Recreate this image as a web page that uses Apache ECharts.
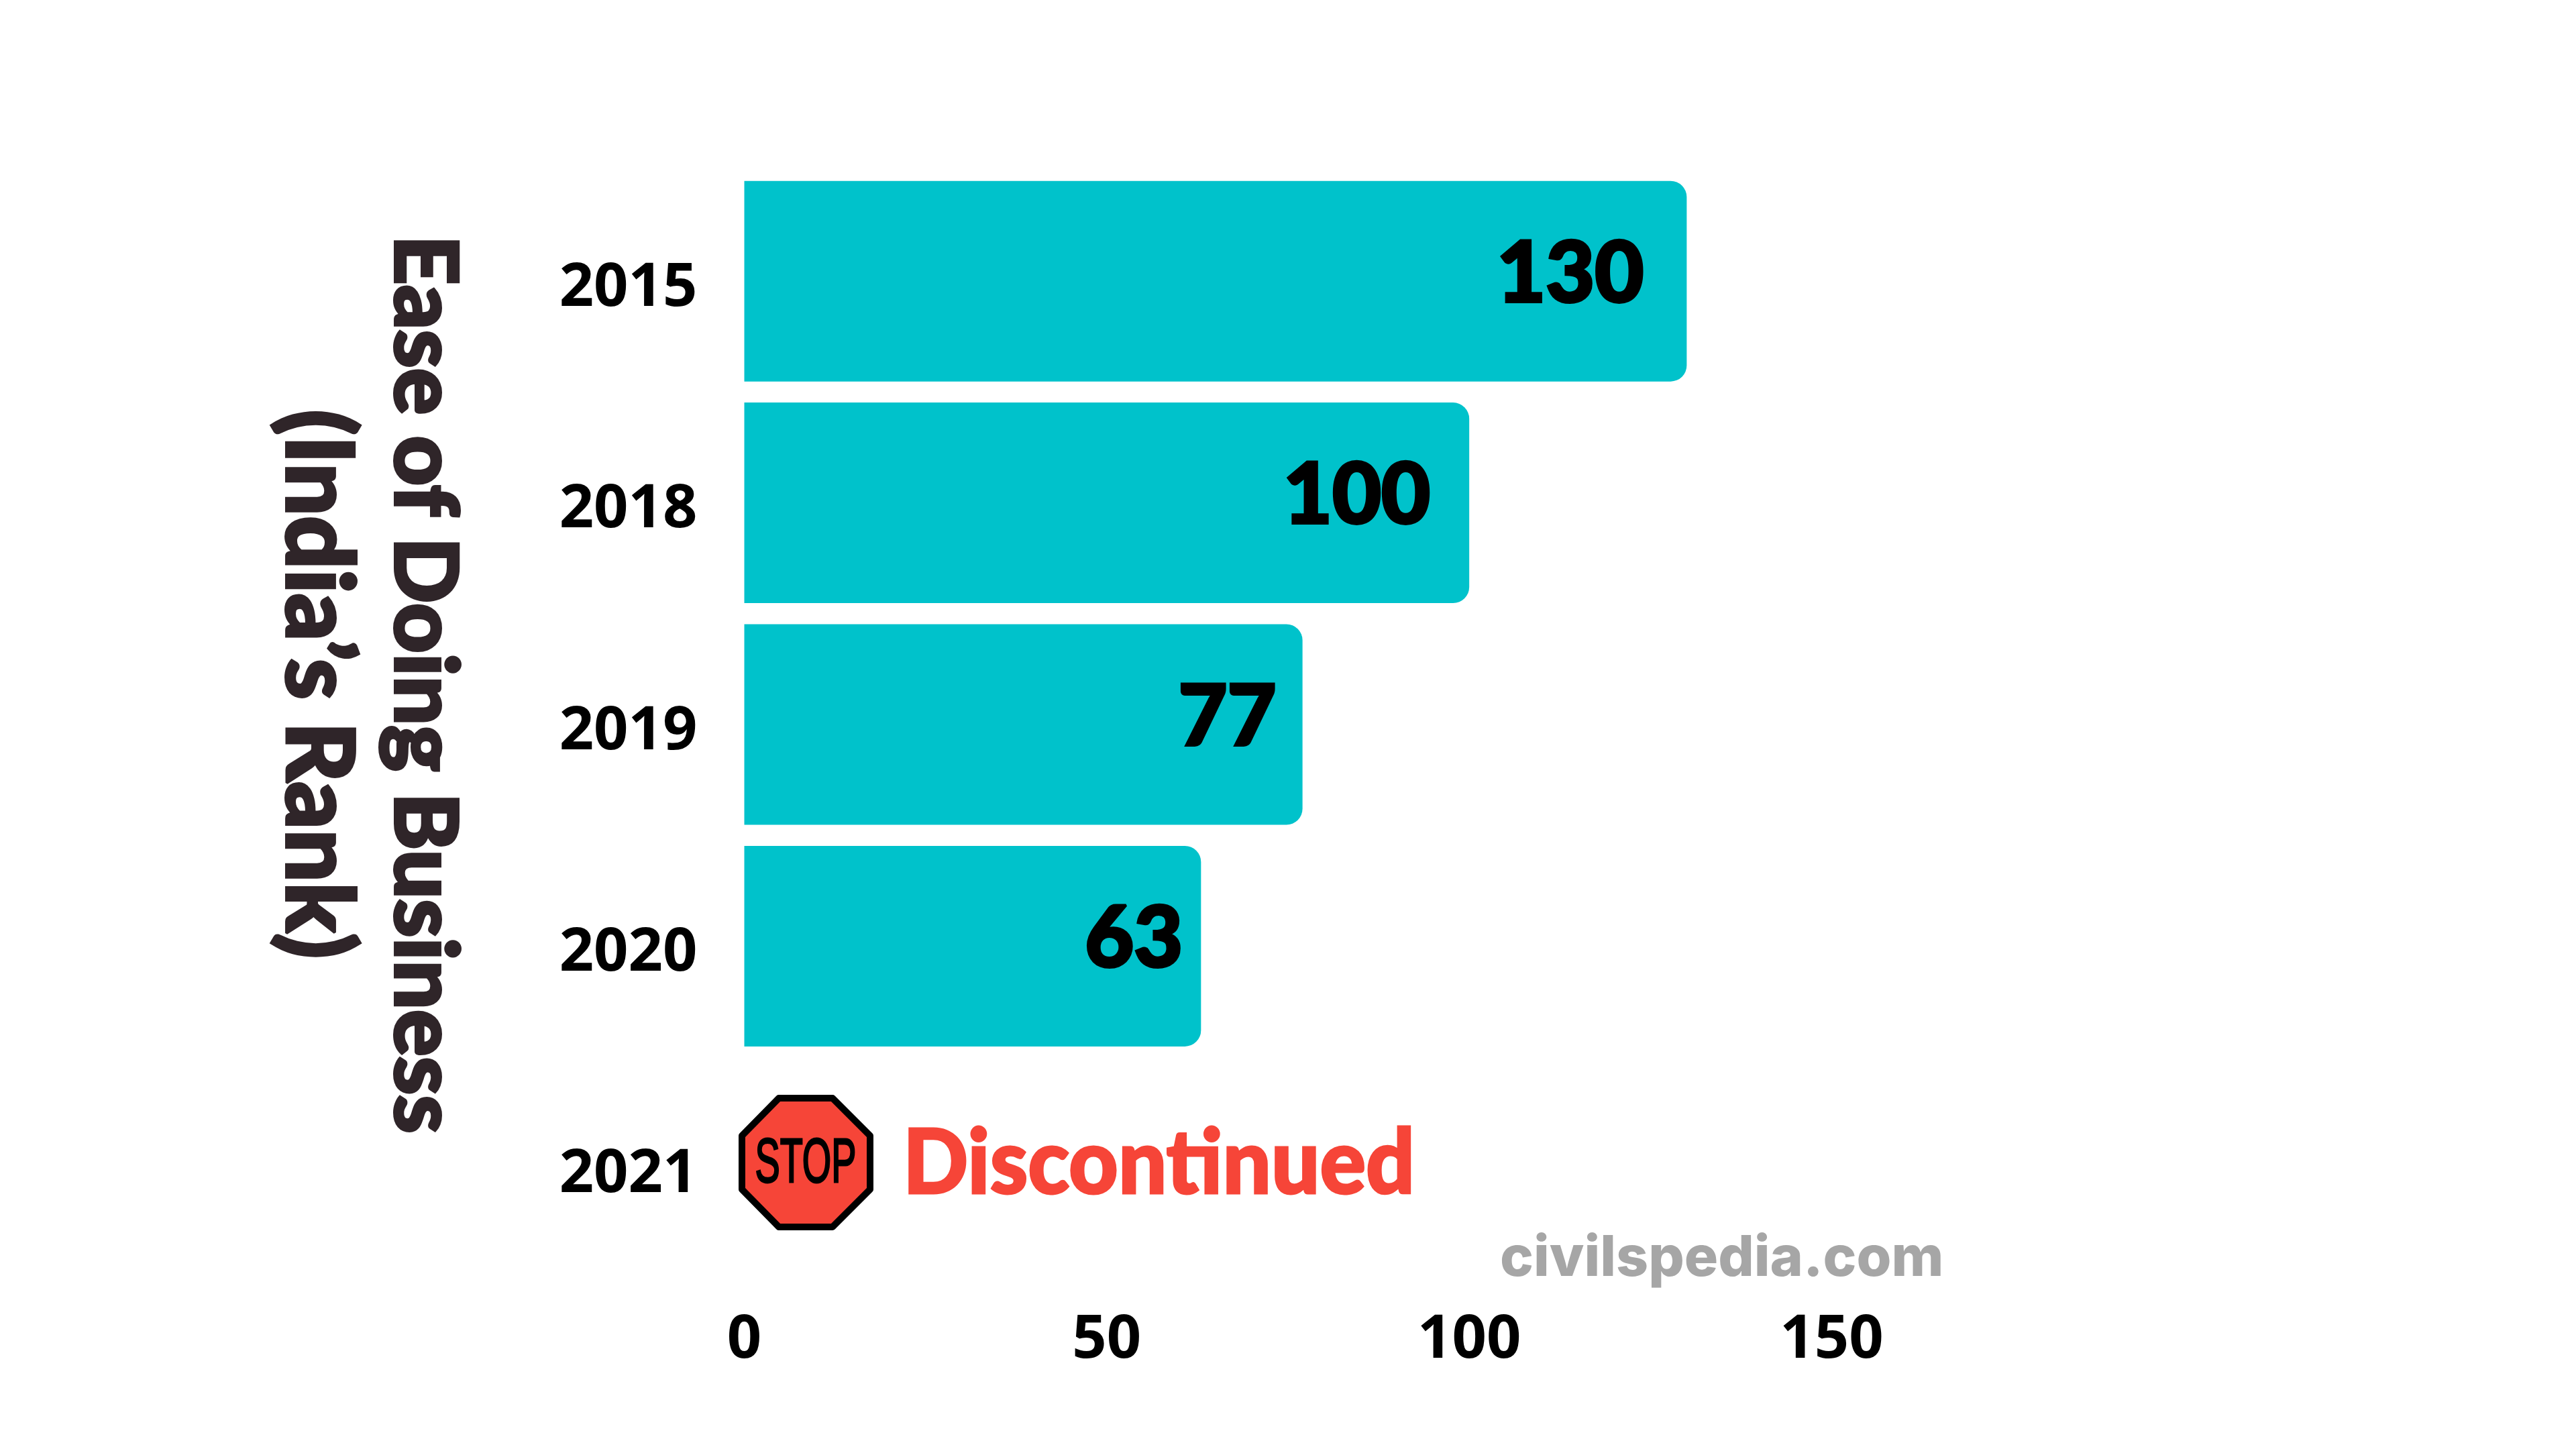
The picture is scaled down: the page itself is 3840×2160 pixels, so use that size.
<!DOCTYPE html>
<html>
<head>
<meta charset="utf-8">
<style>html,body{margin:0;padding:0;background:#fff}#c{width:3840px;height:2160px}</style>
<script src="https://cdn.jsdelivr.net/npm/echarts@6/dist/echarts.min.js"></script>
</head>
<body>
<div id="c"></div>
<script>
var years = ['2015', '2018', '2019', '2020', '2021'];
var ranks = [130, 100, 77, 63, null];
var valueTicks = [0, 50, 100, 150];
var axisNameLine1 = 'Ease of Doing Business';
var axisNameLine2 = '(India\u2019s Rank)';
var stopWord = 'STOP';
var noteText = 'Discontinued';
var siteText = 'civilspedia.com';
var labelInsets = [64, 58, 39, 27, 0];

var nameStyle = {
  fontFamily: 'Lato', fontWeight: 900, lineHeight: 159, color: '#2f2529',
  textBorderColor: '#2f2529', textBorderWidth: 4
};

var chart = echarts.init(document.getElementById('c'), null, {renderer: 'canvas'});
chart.setOption({
  animation: false,
  backgroundColor: '#ffffff',
  grid: {left: 1109.5, top: 254, width: 1621, height: 1652},
  xAxis: {
    type: 'value', min: 0, max: 150, interval: 50,
    splitLine: {show: false}, axisLine: {show: false}, axisTick: {show: false},
    axisLabel: {
      margin: 47, fontFamily: 'Open Sans', fontWeight: 700, fontSize: 90, color: '#000',
      customValues: valueTicks, hideOverlap: false, showMinLabel: true, showMaxLabel: true
    }
  },
  yAxis: {
    type: 'category', inverse: true, data: years,
    axisLine: {show: false}, axisTick: {show: false},
    axisLabel: {
      margin: 70, color: '#000', formatter: '{y|{value}}',
      rich: {y: {fontFamily: 'Open Sans', fontWeight: 700, fontSize: 90, color: '#000', padding: [22, 0, 0, 0]}}
    },
    name: '{a|' + axisNameLine1 + '}\n{b|' + axisNameLine2 + '}',
    nameLocation: 'middle', nameRotate: -90, nameGap: 399,
    nameTextStyle: {
      padding: [0, 120, 0, 0], align: 'center',
      rich: {
        a: Object.assign({fontSize: 130}, nameStyle),
        b: Object.assign({fontSize: 139}, nameStyle)
      }
    }
  },
  series: [{
    type: 'bar', barWidth: 299,
    itemStyle: {color: '#00c2cb', borderRadius: [0, 24, 24, 0]},
    data: ranks.map(function (v, i) {
      return {
        value: v,
        label: {
          show: v !== null, position: 'insideRight', distance: labelInsets[i], offset: [0, -10],
          fontFamily: 'Lato', fontWeight: 900, fontSize: 126, color: '#000',
          textBorderColor: '#000', textBorderWidth: 4, formatter: '{c}'
        }
      };
    })
  }],
  graphic: [
    {
      type: 'polygon', z: 10,
      shape: {points: [[1161, 1637], [1241, 1637], [1297, 1693], [1297, 1773], [1241, 1829], [1161, 1829], [1106, 1773], [1106, 1693]]},
      style: {fill: '#f64538', stroke: '#000', lineWidth: 10, lineJoin: 'round'}
    },
    {
      type: 'text', z: 11, x: 1201, y: 1736, scaleX: 0.6, scaleY: 1,
      style: {text: stopWord, font: '400 93px "Liberation Sans"', fill: '#000', stroke: '#000', lineWidth: 3, textAlign: 'center', textVerticalAlign: 'middle'}
    },
    {
      type: 'text', z: 10, x: 1346, y: 1736, scaleX: 0.955, scaleY: 1,
      style: {text: noteText, font: '900 134px Lato', fill: '#f64538', stroke: '#f64538', lineWidth: 3, textAlign: 'left', textVerticalAlign: 'middle'}
    },
    {
      type: 'text', z: 10, x: 2236, y: 1877,
      style: {text: siteText, font: '800 84px Inter', fill: '#a6a6a6', textAlign: 'left', textVerticalAlign: 'middle'}
    }
  ]
});
</script>
</body>
</html>
